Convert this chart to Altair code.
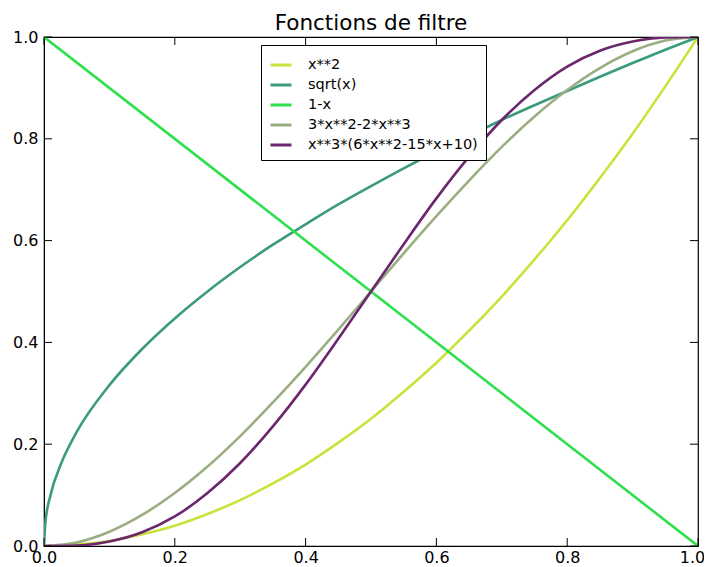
import altair as alt
import pandas as pd

# --- data ---
x_main = [0.0, 0.05, 0.1, 0.15, 0.2, 0.25, 0.3, 0.35, 0.4, 0.45, 0.5,
          0.55, 0.6, 0.65, 0.7, 0.75, 0.8, 0.85, 0.9, 0.95, 1.0]
y_sq = [0.0, 0.003, 0.01, 0.023, 0.04, 0.063, 0.09, 0.123, 0.16, 0.203, 0.25,
        0.303, 0.36, 0.423, 0.49, 0.563, 0.64, 0.723, 0.81, 0.903, 1.0]
x_sqrt = [0.0, 0.002, 0.01, 0.025, 0.05, 0.1, 0.15, 0.2, 0.25, 0.3, 0.35, 0.4,
          0.45, 0.5, 0.55, 0.6, 0.65, 0.7, 0.75, 0.8, 0.85, 0.9, 0.95, 1.0]
y_sqrt = [0.0, 0.045, 0.1, 0.158, 0.224, 0.316, 0.387, 0.447, 0.5, 0.548, 0.592,
          0.632, 0.671, 0.707, 0.742, 0.775, 0.806, 0.837, 0.866, 0.894, 0.922,
          0.949, 0.975, 1.0]
x_lin = [0.0, 1.0]
y_lin = [1.0, 0.0]
y_smooth = [0.0, 0.007, 0.028, 0.061, 0.104, 0.156, 0.216, 0.282, 0.352, 0.425, 0.5,
            0.575, 0.648, 0.718, 0.784, 0.844, 0.896, 0.939, 0.972, 0.993, 1.0]
y_smoother = [0.0, 0.001, 0.009, 0.027, 0.058, 0.104, 0.163, 0.235, 0.317, 0.407, 0.5,
              0.593, 0.683, 0.765, 0.837, 0.896, 0.942, 0.973, 0.991, 0.999, 1.0]

names = ["x**2", "sqrt(x)", "1-x", "3*x**2-2*x**3", "x**3*(6*x**2-15*x+10)"]
colors = ["#c6e43a", "#3b9b7e", "#2ee04c", "#9bae82", "#6b276d"]
ticks = [0.0, 0.2, 0.4, 0.6, 0.8, 1.0]

rows = []
for name, xs, ys in [(names[0], x_main, y_sq), (names[1], x_sqrt, y_sqrt),
                     (names[2], x_lin, y_lin), (names[3], x_main, y_smooth),
                     (names[4], x_main, y_smoother)]:
    for i, (a, b) in enumerate(zip(xs, ys)):
        rows.append({"f": name, "x": a, "y": b, "i": i})
df = pd.DataFrame(rows)
tdf = pd.DataFrame({"t": ticks})

W, H = 654, 509
FONT = "DejaVu Sans"

xs = alt.Scale(domain=[0, 1], nice=False, zero=False)
ys = alt.Scale(domain=[0, 1], nice=False, zero=False)

lines = alt.Chart(df).mark_line(strokeWidth=2.6, interpolate="monotone", clip=True).encode(
    x=alt.X("x:Q", scale=xs, axis=alt.Axis(values=ticks, format=".1f", ticks=False,
                                            grid=False, labelPadding=3, title=None,
                                            labelFlush=False,
                                            labelOffset={"expr": "datum.value == 1 ? -6 : 0"})),
    y=alt.Y("y:Q", scale=ys, axis=alt.Axis(values=ticks, format=".1f", ticks=False,
                                            grid=False, labelPadding=6, title=None,
                                            labelFlush=False)),
    color=alt.Color("f:N", scale=alt.Scale(domain=names, range=colors), sort=names,
                    legend=alt.Legend(title=None, orient="none", legendX=217, legendY=8,
                                      fillColor="white", strokeColor="black", padding=8,
                                      symbolType="stroke", symbolSize=441, symbolStrokeWidth=3,
                                      rowPadding=1, labelFontSize=14.5, labelFont=FONT,
                                      labelColor="black", labelOffset=15, labelLimit=400,
                                      cornerRadius=0)),
    order="i:Q",
)

tick_len = 8
xb = alt.Chart(tdf).mark_rule(color="black").encode(
    x=alt.X("t:Q", scale=xs), y=alt.value(H), y2=alt.value(H - tick_len))
xt = alt.Chart(tdf).mark_rule(color="black").encode(
    x=alt.X("t:Q", scale=xs), y=alt.value(0), y2=alt.value(tick_len))
yl = alt.Chart(tdf).mark_rule(color="black").encode(
    y=alt.Y("t:Q", scale=ys), x=alt.value(0), x2=alt.value(tick_len))
yr = alt.Chart(tdf).mark_rule(color="black").encode(
    y=alt.Y("t:Q", scale=ys), x=alt.value(W), x2=alt.value(W - tick_len))

chart = alt.layer(lines, xb, xt, yl, yr).properties(
    width=W, height=H,
    title=alt.TitleParams("Fonctions de filtre", font=FONT, fontSize=21.5, fontWeight="normal",
                          color="black", offset=-5, frame="group"),
    autosize=alt.AutoSizeParams(type="none"),
    padding={"left": 36, "top": 29, "right": 6, "bottom": 20},
    background="white",
).configure_view(stroke="black", strokeWidth=1.2).configure_axis(
    domainColor="black", labelColor="black", labelFont=FONT, labelFontSize=16,
    ticks=False, grid=False, title=None, labelFlush=False,
)

chart.save("out.html", embed_options={"renderer": "svg", "actions": False})
